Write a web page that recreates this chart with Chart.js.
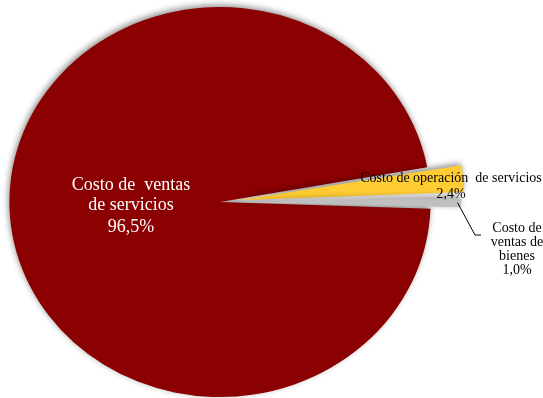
<!DOCTYPE html>
<html>
<head>
<meta charset="utf-8">
<script src="https://cdn.jsdelivr.net/npm/chart.js@4.4.1/dist/chart.umd.min.js"></script>
<style>
html,body{margin:0;padding:0;background:#ffffff;overflow:hidden;}
canvas{display:block;}
</style>
</head>
<body>
<canvas id="c" width="543" height="398" style="width:543px;height:398px"></canvas>
<script>
// ---- data ----
const categories = [
  ["Costo de  ventas", "de servicios"],
  ["Costo de operación  de servicios"],
  ["Costo de", "ventas de", "bienes"]
];
const values = [96.5, 2.4, 1.0];
const valueLabels = ["96,5%", "2,4%", "1,0%"];
const colors = ["#8B0000", "#FFCC33", "#BFBFBF"];

const SCALE_X = 1.08;

// horizontal stretch + soft shadow around the pie
const stretchPlugin = {
  id: 'stretch',
  beforeDatasetsDraw(chart) {
    const arc = chart.getDatasetMeta(0).data[0];
    const ctx = chart.ctx;
    ctx.save();
    ctx.translate(arc.x, arc.y);
    ctx.scale(SCALE_X, 1);
    ctx.translate(-arc.x, -arc.y);
    ctx.shadowColor = 'rgba(0,0,0,0.45)';
    ctx.shadowBlur = 6;
    ctx.shadowOffsetX = -1;
    ctx.shadowOffsetY = -2;
  },
  afterDatasetsDraw(chart) {
    chart.ctx.restore();
  }
};

const labelPlugin = {
  id: 'sliceLabels',
  afterDatasetsDraw(chart, args, opts) {
    const ctx = chart.ctx;
    ctx.save();
    ctx.textAlign = 'center';
    ctx.textBaseline = 'alphabetic';
    opts.items.forEach(item => {
      const lines = categories[item.index].concat([valueLabels[item.index]]);
      ctx.font = item.font;
      ctx.fillStyle = item.color;
      let y = item.y;
      lines.forEach((ln, i) => {
        const dy = (item.gaps && item.gaps[i] !== undefined) ? item.gaps[i] : item.lineHeight;
        if (i > 0) y += dy;
        ctx.fillText(ln, item.x, y);
      });
    });
    // leader line for the small grey slice
    const el = chart.getDatasetMeta(0).data[2];
    const mid = (el.startAngle + el.endAngle) / 2;
    const off = (el.options.offset || 0) / 4;
    const r = el.outerRadius + off - 4;
    const sx = el.x + (Math.cos(mid) * (r + off)) * SCALE_X;
    const sy = el.y + Math.sin(mid) * (r + off);
    ctx.strokeStyle = '#000';
    ctx.lineWidth = 1;
    ctx.beginPath();
    ctx.moveTo(sx, sy);
    ctx.lineTo(opts.leader[0][0], opts.leader[0][1]);
    ctx.lineTo(opts.leader[1][0], opts.leader[1][1]);
    ctx.stroke();
    ctx.restore();
  }
};

new Chart(document.getElementById('c'), {
  type: 'pie',
  data: {
    labels: categories.map(c => c.join(' ')),
    datasets: [{
      data: values,
      backgroundColor: colors,
      borderWidth: 0,
      offset: [0, 68, 58],
      clip: false
    }]
  },
  options: {
    responsive: false,
    animation: false,
    rotation: 92,
    radius: 195,
    layout: { padding: { left: 0, right: 103, top: 6, bottom: 0 } },
    events: [],
    plugins: {
      legend: { display: false },
      tooltip: { enabled: false },
      sliceLabels: {
        items: [
          { index: 0, x: 131, y: 190, lineHeight: 20, gaps: [0, 20, 22], font: '18px "Liberation Serif", "Times New Roman", serif', color: '#ffffff' },
          { index: 1, x: 451, y: 182, lineHeight: 16, font: '14px "Liberation Serif", "Times New Roman", serif', color: '#000000' },
          { index: 2, x: 517, y: 232, lineHeight: 14, font: '14px "Liberation Serif", "Times New Roman", serif', color: '#000000' }
        ],
        leader: [[475, 235], [481, 235]]
      }
    }
  },
  plugins: [stretchPlugin, labelPlugin]
});
</script>
</body>
</html>
